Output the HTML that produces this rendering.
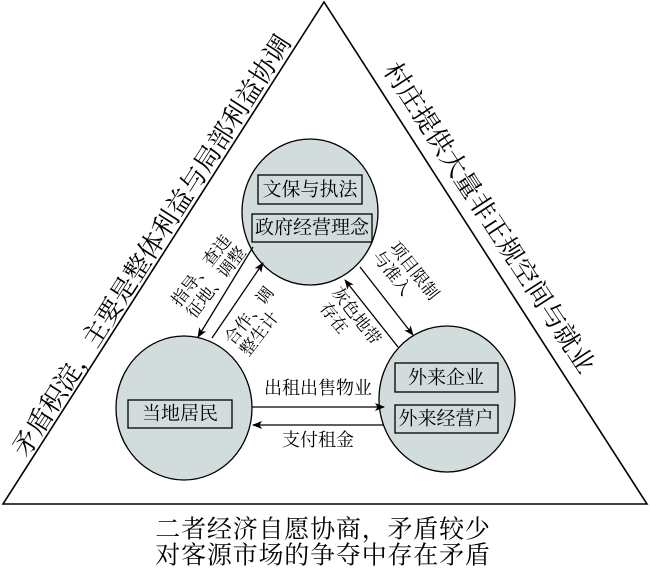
<!DOCTYPE html>
<html><head><meta charset="utf-8"><style>
html,body{margin:0;padding:0;background:#fff;}
svg{display:block;}
text{font-family:"Liberation Serif","Noto Serif CJK SC","Noto Sans CJK SC",serif;fill:#000;}
</style></head><body>
<svg width="650" height="572" viewBox="0 0 650 572" xmlns="http://www.w3.org/2000/svg">
<defs>
<marker id="ah" markerWidth="10" markerHeight="8" refX="9" refY="4" orient="auto" markerUnits="userSpaceOnUse">
<path d="M0,0 L10,4 L0,8 L2.5,4 Z" fill="#000"/>
</marker>
</defs>
<polygon points="324,2 3,504 647,504" fill="none" stroke="#000" stroke-width="1.6"/>

<text transform="translate(152,246) rotate(-57.5)" font-size="26" text-anchor="middle" dominant-baseline="central">矛盾积淀，主要是整体利益与局部利益协调</text>
<text transform="translate(489,218) rotate(57)" font-size="26" text-anchor="middle" dominant-baseline="central">村庄提供大量非正规空间与就业</text>

<ellipse cx="310" cy="212" rx="68" ry="73" fill="#d3dcdc" stroke="#000" stroke-width="1.3"/>
<ellipse cx="184" cy="408" rx="68" ry="72" fill="#d3dcdc" stroke="#000" stroke-width="1.3"/>
<ellipse cx="447" cy="399" rx="68" ry="73" fill="#d3dcdc" stroke="#000" stroke-width="1.3"/>

<rect x="258" y="175" width="104" height="29" fill="#d3dcdc" stroke="#000" stroke-width="1.3"/>
<text x="310" y="190" font-size="19" text-anchor="middle" dominant-baseline="central">文保与执法</text>
<rect x="252" y="214" width="120" height="28" fill="#d3dcdc" stroke="#000" stroke-width="1.3"/>
<text x="312" y="228" font-size="19" text-anchor="middle" dominant-baseline="central">政府经营理念</text>

<rect x="128" y="400" width="104" height="28" fill="#d3dcdc" stroke="#000" stroke-width="1.3"/>
<text x="180" y="414" font-size="19" text-anchor="middle" dominant-baseline="central">当地居民</text>

<rect x="395" y="363" width="103" height="29" fill="#d3dcdc" stroke="#000" stroke-width="1.3"/>
<text x="446" y="378" font-size="19" text-anchor="middle" dominant-baseline="central">外来企业</text>
<rect x="395" y="405" width="103" height="28" fill="#d3dcdc" stroke="#000" stroke-width="1.3"/>
<text x="446" y="419" font-size="19" text-anchor="middle" dominant-baseline="central">外来经营户</text>

<line x1="253" y1="247" x2="198" y2="337" stroke="#000" stroke-width="1.3" marker-end="url(#ah)"/>
<line x1="212" y1="338" x2="263" y2="263" stroke="#000" stroke-width="1.3" marker-end="url(#ah)"/>
<line x1="360" y1="267" x2="413" y2="335" stroke="#000" stroke-width="1.3" marker-end="url(#ah)"/>
<line x1="398" y1="347" x2="345" y2="280" stroke="#000" stroke-width="1.3" marker-end="url(#ah)"/>
<line x1="252" y1="407" x2="384" y2="407" stroke="#000" stroke-width="1.3" marker-end="url(#ah)"/>
<line x1="383" y1="425" x2="253" y2="425" stroke="#000" stroke-width="1.3" marker-end="url(#ah)"/>

<text x="318" y="388" font-size="18" text-anchor="middle" dominant-baseline="central">出租出售物业</text>
<text x="318" y="440" font-size="18" text-anchor="middle" dominant-baseline="central">支付租金</text>

<g transform="translate(208,276) rotate(-52)" font-size="17" text-anchor="middle">
<text x="0" y="-3">指导、查违</text>
<text x="0" y="16">征地、调整</text>
</g>
<g transform="translate(253,325) rotate(-52)" font-size="17" text-anchor="middle">
<text x="5" y="-3">合作、调</text>
<text x="-3" y="16">整生计</text>
</g>
<g transform="translate(405,273) rotate(52)" font-size="17" text-anchor="middle">
<text x="4" y="-3">项目限制</text>
<text x="-8" y="16">与准入</text>
</g>
<g transform="translate(347,318) rotate(52)" font-size="17" text-anchor="middle">
<text x="4" y="-3">灰色地带</text>
<text x="-8" y="16">存在</text>
</g>

<text x="323" y="530" font-size="25" letter-spacing="0.8" text-anchor="middle" dominant-baseline="central">二者经济自愿协商，矛盾较少</text>
<text x="323" y="556" font-size="25" letter-spacing="0.8" text-anchor="middle" dominant-baseline="central">对客源市场的争夺中存在矛盾</text>
</svg>
</body></html>
